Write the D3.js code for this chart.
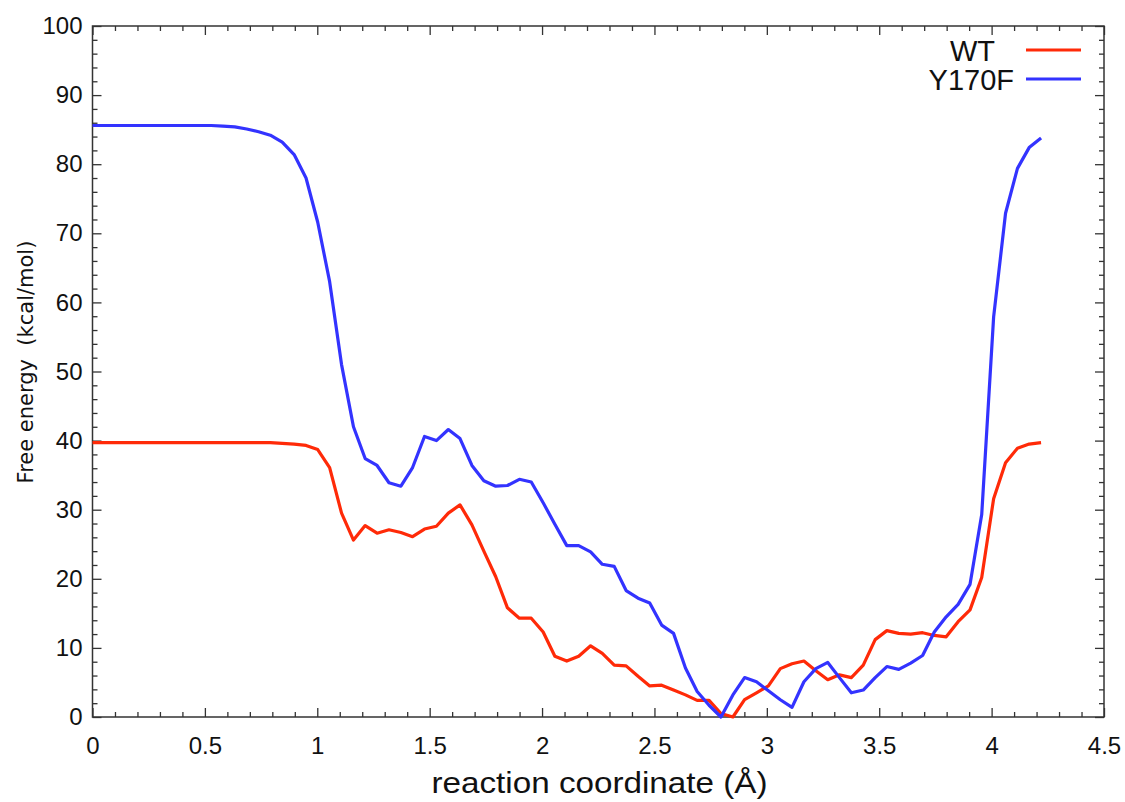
<!DOCTYPE html>
<meta charset="utf-8">
<script src="https://d3js.org/d3.v7.min.js"></script>
<style>
  body { margin: 0; background: #fff; }
  svg { display: block; }
</style>
<div id="my_dataviz"></div>
<script>

// reaction coordinate (Å) of each sampled point
var coord = [0, 0.053, 0.106, 0.158, 0.211, 0.264, 0.317, 0.369, 0.422, 0.475,
  0.528, 0.580, 0.633, 0.686, 0.739, 0.791, 0.844, 0.897, 0.950, 1.002,
  1.055, 1.108, 1.161, 1.213, 1.266, 1.319, 1.372, 1.424, 1.477, 1.530,
  1.583, 1.635, 1.688, 1.741, 1.794, 1.846, 1.899, 1.952, 2.005, 2.057,
  2.110, 2.163, 2.216, 2.268, 2.321, 2.374, 2.427, 2.479, 2.532, 2.585,
  2.638, 2.690, 2.743, 2.796, 2.849, 2.901, 2.954, 3.007, 3.060, 3.112,
  3.165, 3.218, 3.271, 3.323, 3.376, 3.429, 3.482, 3.534, 3.587, 3.640,
  3.693, 3.745, 3.798, 3.851, 3.904, 3.956, 4.009, 4.062, 4.115, 4.167, 4.220];

// free energy (kcal/mol)
var wt = [39.7, 39.7, 39.7, 39.7, 39.7, 39.7, 39.7, 39.7, 39.7, 39.7,
  39.7, 39.7, 39.7, 39.7, 39.7, 39.7, 39.6, 39.5, 39.3, 38.7,
  36.1, 29.5, 25.6, 27.7, 26.6, 27.1, 26.7, 26.1, 27.2, 27.6,
  29.5, 30.7, 27.8, 24.0, 20.3, 15.8, 14.3, 14.3, 12.3, 8.8,
  8.1, 8.8, 10.3, 9.2, 7.5, 7.4, 5.9, 4.5, 4.6, 3.9,
  3.2, 2.4, 2.4, 0.5, 0.0, 2.5, 3.5, 4.5, 7.0, 7.7,
  8.1, 6.7, 5.4, 6.1, 5.7, 7.5, 11.2, 12.5, 12.1, 12.0,
  12.2, 11.8, 11.6, 13.8, 15.5, 20.2, 31.6, 36.8, 38.9, 39.5, 39.7];

var y170f = [85.6, 85.6, 85.6, 85.6, 85.6, 85.6, 85.6, 85.6, 85.6, 85.6,
  85.6, 85.5, 85.4, 85.1, 84.7, 84.2, 83.2, 81.4, 78.0, 71.6,
  63.0, 51.0, 42.0, 37.4, 36.4, 33.9, 33.4, 36.1, 40.6, 40.0,
  41.6, 40.3, 36.4, 34.2, 33.4, 33.5, 34.4, 34.0, 31.0, 27.9,
  24.8, 24.8, 23.9, 22.1, 21.8, 18.3, 17.2, 16.5, 13.3, 12.1,
  7.1, 3.7, 1.7, 0.0, 3.2, 5.7, 5.1, 3.8, 2.5, 1.4,
  5.1, 7.0, 7.9, 5.7, 3.5, 3.9, 5.7, 7.3, 6.9, 7.8,
  8.9, 12.3, 14.5, 16.3, 19.2, 29.3, 57.9, 72.9, 79.4, 82.4, 83.8];

var seriesNames = ["WT", "Y170F"];
var seriesColors = ["#ff2a08", "#3333ff"];

var xMajor = [0, 0.5, 1, 1.5, 2, 2.5, 3, 3.5, 4, 4.5];
var yMajor = [0, 10, 20, 30, 40, 50, 60, 70, 80, 90, 100];

// set the dimensions and margins of the graph
var margin = {top: 26, right: 21, bottom: 85, left: 92.5},
    width = 1125 - margin.left - margin.right,
    height = 802 - margin.top - margin.bottom;

var svg = d3.select("#my_dataviz")
  .append("svg")
    .attr("width", 1125)
    .attr("height", 802)
  .append("g")
    .attr("transform", "translate(" + margin.left + "," + margin.top + ")");

var x = d3.scaleLinear().domain([0, 4.5]).range([0, width]);
var y = d3.scaleLinear().domain([0, 100]).range([height, 0]);

// minor ticks every 0.1 and every 2
var xMinor = d3.range(0, 46).map(function(i) { return i / 10; })
  .filter(function(v) { return Math.abs(v * 2 - Math.round(v * 2)) > 1e-6; });
var yMinor = d3.range(0, 101, 2).filter(function(v) { return v % 10 != 0; });

function styleAxis(g) {
  g.select(".domain").remove();
  g.selectAll(".tick line").attr("stroke", "#333").attr("stroke-width", 1.3);
  g.selectAll(".tick text")
    .attr("fill", "#111")
    .style("font-family", "'Liberation Sans', Arial, sans-serif")
    .style("font-size", "24px");
}

// bottom
svg.append("g").attr("transform", "translate(0," + height + ")")
  .call(d3.axisBottom(x).tickValues(xMajor).tickSize(-9).tickPadding(20)
    .tickFormat(d3.format("")))
  .call(styleAxis);
svg.append("g").attr("transform", "translate(0," + height + ")")
  .call(d3.axisBottom(x).tickValues(xMinor).tickSize(-5).tickFormat(""))
  .call(styleAxis);
// top
svg.append("g")
  .call(d3.axisTop(x).tickValues(xMajor).tickSize(-9).tickFormat(""))
  .call(styleAxis);
svg.append("g")
  .call(d3.axisTop(x).tickValues(xMinor).tickSize(-5).tickFormat(""))
  .call(styleAxis);
// left
svg.append("g")
  .call(d3.axisLeft(y).tickValues(yMajor).tickSize(-9).tickPadding(10))
  .call(styleAxis);
svg.append("g")
  .call(d3.axisLeft(y).tickValues(yMinor).tickSize(-5).tickFormat(""))
  .call(styleAxis);
// right
svg.append("g").attr("transform", "translate(" + width + ",0)")
  .call(d3.axisRight(y).tickValues(yMajor).tickSize(-9).tickFormat(""))
  .call(styleAxis);
svg.append("g").attr("transform", "translate(" + width + ",0)")
  .call(d3.axisRight(y).tickValues(yMinor).tickSize(-5).tickFormat(""))
  .call(styleAxis);

// frame
svg.append("rect")
  .attr("width", width)
  .attr("height", height)
  .attr("fill", "none")
  .attr("stroke", "#333")
  .attr("stroke-width", 1.5);

// lines
var line = d3.line()
  .x(function(d) { return x(d[0]); })
  .y(function(d) { return y(d[1]); });

[wt, y170f].forEach(function(vals, i) {
  svg.append("path")
    .datum(coord.map(function(c, j) { return [c, vals[j]]; }))
    .attr("fill", "none")
    .attr("stroke", seriesColors[i])
    .attr("stroke-width", 3.2)
    .attr("stroke-linejoin", "round")
    .attr("d", line);
});

// legend
var legend = svg.append("g");
var legendTextX = [width - 109, width - 90];
seriesNames.forEach(function(name, i) {
  var ly = 24 + i * 29;
  legend.append("text")
    .attr("x", legendTextX[i])
    .attr("y", ly + 11)
    .attr("text-anchor", "end")
    .style("font-family", "'Liberation Sans', Arial, sans-serif")
    .style("font-size", "29px")
    .attr("fill", "#111")
    .text(name);
  legend.append("line")
    .attr("x1", width - 78).attr("x2", width - 23)
    .attr("y1", ly).attr("y2", ly)
    .attr("stroke", seriesColors[i])
    .attr("stroke-width", 3.2);
});

// axis labels
svg.append("text")
  .attr("x", 507)
  .attr("y", height + 76)
  .attr("text-anchor", "middle")
  .attr("textLength", 336)
  .attr("lengthAdjust", "spacingAndGlyphs")
  .style("font-family", "'Liberation Sans', Arial, sans-serif")
  .style("font-size", "29px")
  .attr("fill", "#111")
  .text("reaction coordinate (Å)");

svg.append("text")
  .attr("transform", "rotate(-90)")
  .attr("x", -(362 - margin.top))
  .attr("y", -margin.left + 33)
  .attr("text-anchor", "middle")
  .style("font-family", "'DejaVu Sans', sans-serif")
  .style("font-size", "21px")
  .style("white-space", "pre")
  .attr("fill", "#111")
  .text("Free energy  (kcal/mol)");

</script>
